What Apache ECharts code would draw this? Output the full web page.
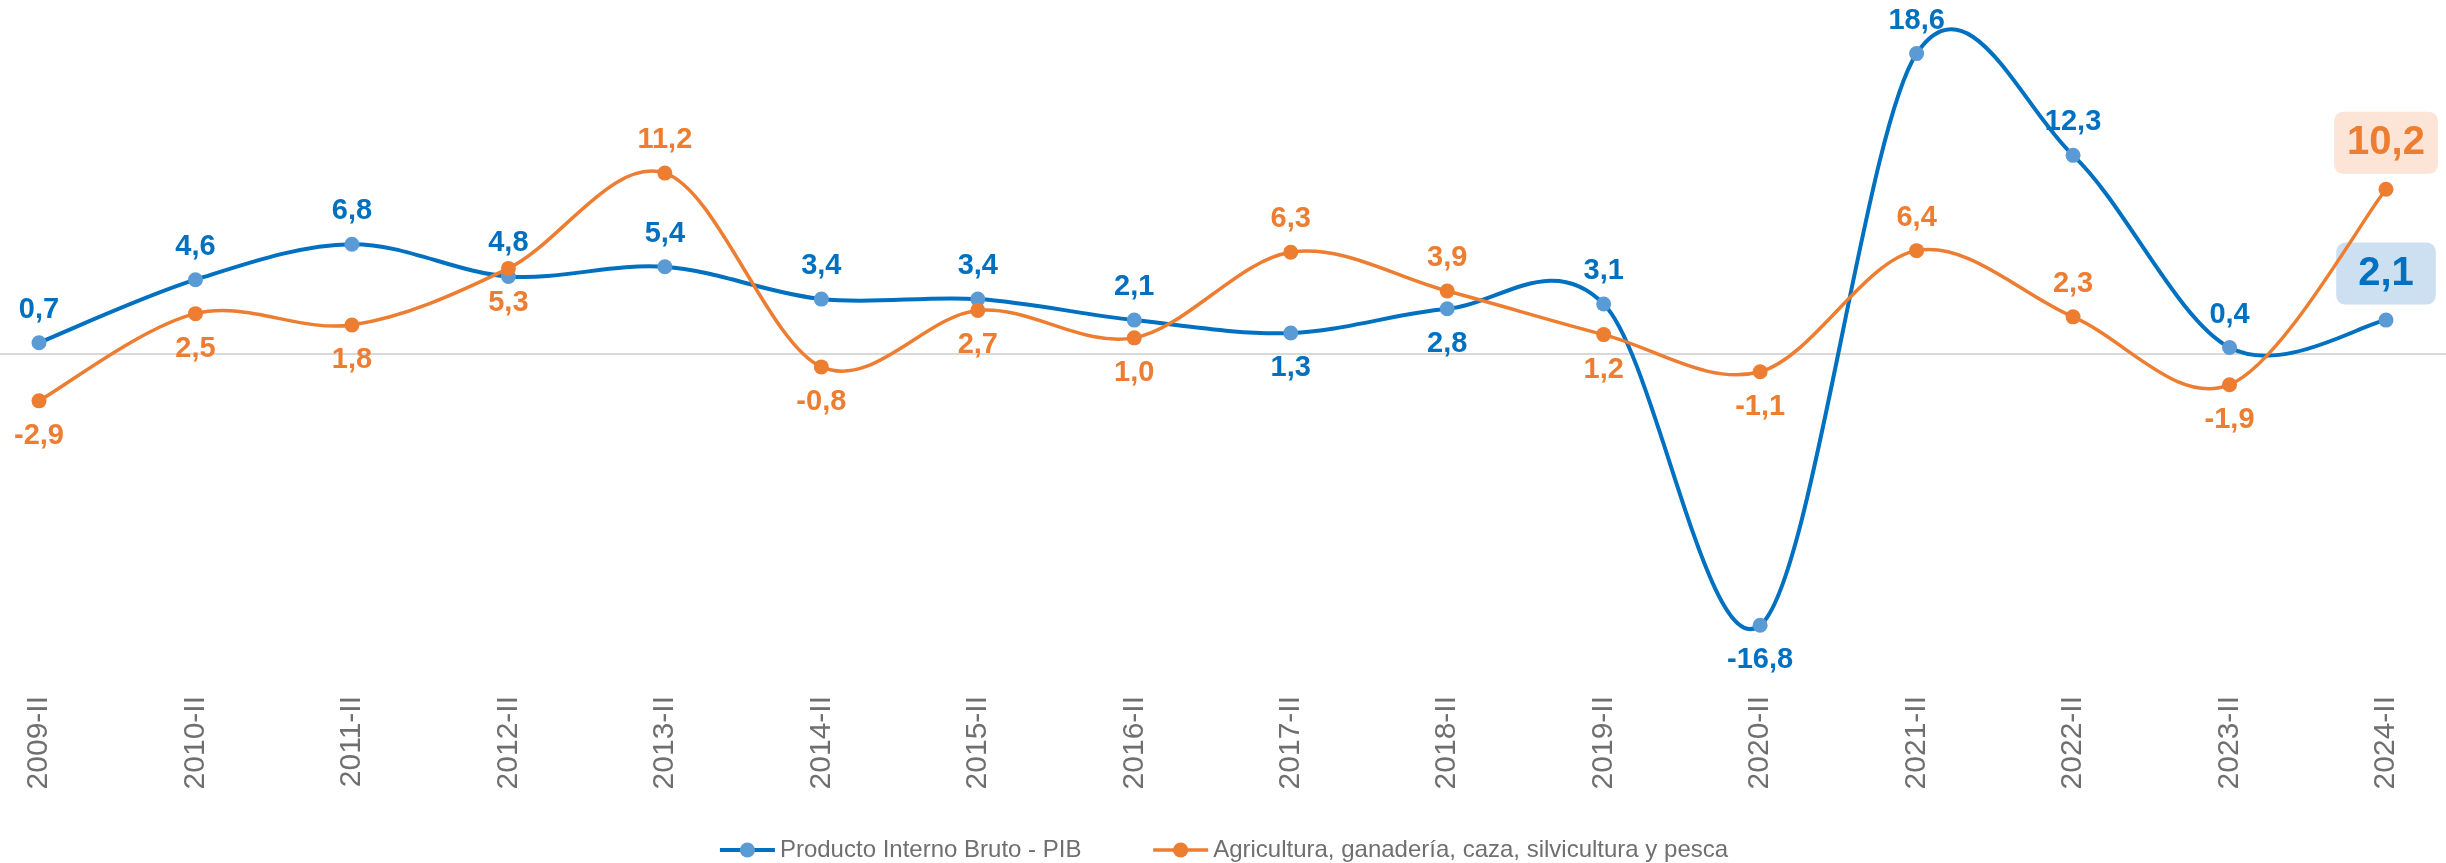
<!DOCTYPE html>
<html style="height: 100%">
<head>
    <meta charset="utf-8">
    <script src="https://cdn.jsdelivr.net/npm/echarts@6/dist/echarts.min.js"></script>
</head>
<body style="height: 100%; margin: 0; background: #fff">
    <div id="container" style="width: 2446px; height: 863px"></div>
    <script type="text/javascript">
        // trimestres (II de cada año)
        var periodos = ['2009-II', '2010-II', '2011-II', '2012-II', '2013-II', '2014-II', '2015-II', '2016-II',
            '2017-II', '2018-II', '2019-II', '2020-II', '2021-II', '2022-II', '2023-II', '2024-II'];
        var pib = [0.7, 4.6, 6.8, 4.8, 5.4, 3.4, 3.4, 2.1, 1.3, 2.8, 3.1, -16.8, 18.6, 12.3, 0.4, 2.1];
        var agro = [-2.9, 2.5, 1.8, 5.3, 11.2, -0.8, 2.7, 1.0, 6.3, 3.9, 1.2, -1.1, 6.4, 2.3, -1.9, 10.2];
        var nombrePib = 'Producto Interno Bruto - PIB';
        var nombreAgro = 'Agricultura, ganadería, caza, silvicultura y pesca';

        // etiquetas que van debajo del punto
        var pibAbajo = [8, 9, 11];
        var agroArriba = [4, 8, 9, 12, 13, 15];

        var fuente = "'Liberation Sans', Arial, sans-serif";
        var azul = '#0070C0', azulMarca = '#5B9BD5', naranja = '#ED7D31';

        function fmt(v) { return v.toFixed(1).replace('.', ','); }

        function etiquetas(vals, color, abajo, fondo, pad) {
            return vals.map(function (v, i) {
                var item = { value: v, label: { position: abajo(i) ? 'bottom' : 'top', distance: abajo(i) ? 13 : 11 } };
                if (i === vals.length - 1) {
                    item.label = {
                        position: 'top', distance: 8, fontSize: 40, lineHeight: 40,
                        backgroundColor: fondo, borderRadius: 9, padding: pad
                    };
                }
                return item;
            });
        }

        // curva suavizada tipo Excel (Catmull-Rom) sobre los ejes de ECharts
        function curva(name, vals, color, ancho, z) {
            return {
                type: 'custom', name: name, z: z, silent: true,
                data: vals.map(function (v, i) { return [i, v]; }),
                encode: { x: 0, y: 1 },
                renderItem: function (params, api) {
                    var i = params.dataIndex;
                    if (i >= vals.length - 1) return null;
                    function pt(k) {
                        k = Math.max(0, Math.min(vals.length - 1, k));
                        return api.coord([k, vals[k]]);
                    }
                    var p0 = pt(i - 1), p1 = pt(i), p2 = pt(i + 1), p3 = pt(i + 2);
                    return {
                        type: 'bezierCurve',
                        shape: {
                            x1: p1[0], y1: p1[1], x2: p2[0], y2: p2[1],
                            cpx1: p1[0] + (p2[0] - p0[0]) / 6, cpy1: p1[1] + (p2[1] - p0[1]) / 6,
                            cpx2: p2[0] - (p3[0] - p1[0]) / 6, cpy2: p2[1] - (p3[1] - p1[1]) / 6
                        },
                        style: { fill: 'none', stroke: color, lineWidth: ancho, lineCap: 'round' }
                    };
                }
            };
        }

        var dom = document.getElementById('container');
        var myChart = echarts.init(dom);
        var option = {
            animation: false,
            textStyle: { fontFamily: fuente },
            grid: [
                { left: 39, right: 60, top: 31, bottom: 186 },
                { left: 0, right: 0, top: 31, bottom: 186 }
            ],
            xAxis: [{
                type: 'category', gridIndex: 0, data: periodos, boundaryGap: false,
                axisLine: { show: false }, axisTick: { show: false },
                axisLabel: { rotate: 90, interval: 0, margin: 19, fontSize: 30, color: '#6f6f6f', fontFamily: fuente }
            }, {
                type: 'value', gridIndex: 1, min: 0, max: 1, show: false
            }],
            yAxis: [{
                type: 'value', gridIndex: 0, min: -20, max: 20, show: false, splitLine: { show: false }
            }, {
                type: 'value', gridIndex: 1, min: -20, max: 20, interval: 20,
                axisLine: { show: false }, axisTick: { show: false }, axisLabel: { show: false },
                splitLine: { show: true, showMinLine: false, showMaxLine: false, lineStyle: { color: '#d9d9d9', width: 2 } }
            }],
            legend: {
                left: 'center', top: 833, itemWidth: 55, itemHeight: 19, itemGap: 70,
                textStyle: { fontSize: 24, color: '#6f6f6f', fontFamily: fuente },
                data: [
                    { name: nombrePib, lineStyle: { width: 4, color: azul, opacity: 1 } },
                    { name: nombreAgro, lineStyle: { width: 3.5, color: naranja, opacity: 1 } }
                ]
            },
            series: [{
                name: nombrePib, type: 'line', z: 3,
                data: etiquetas(pib, azul, function (i) { return pibAbajo.indexOf(i) >= 0; }, '#CCE0F2', [11, 22]),
                symbol: 'circle', symbolSize: 15, showAllSymbol: true,
                lineStyle: { width: 0 },
                itemStyle: { color: azulMarca },
                label: {
                    show: true, color: azul, fontSize: 29, fontWeight: 'bold', fontFamily: fuente,
                    formatter: function (p) { return fmt(p.value); }
                }
            }, {
                name: nombreAgro, type: 'line', z: 5,
                data: etiquetas(agro, naranja, function (i) { return agroArriba.indexOf(i) < 0; }, '#FCE4D6', [11, 13]),
                symbol: 'circle', symbolSize: 15, showAllSymbol: true,
                lineStyle: { width: 0 },
                itemStyle: { color: naranja },
                label: {
                    show: true, color: naranja, fontSize: 29, fontWeight: 'bold', fontFamily: fuente,
                    formatter: function (p) { return fmt(p.value); }
                }
            },
            curva(nombrePib, pib, azul, 4, 2),
            curva(nombreAgro, agro, naranja, 3.5, 4)
            ]
        };
        if (option && typeof option === 'object') {
            myChart.setOption(option, true);
        }
    </script>
</body>
</html>
